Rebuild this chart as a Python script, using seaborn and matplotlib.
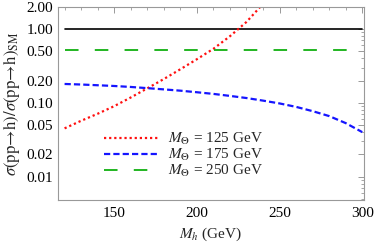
import numpy as np
import pandas as pd
import matplotlib
matplotlib.use("Agg")
import matplotlib.pyplot as plt
import matplotlib.ticker as mticker
import seaborn as sns

# ---- data ----
mh = [120, 130, 140, 150, 160, 170, 180, 190, 200, 210, 220, 230, 240,
      250, 260, 270, 280, 290, 300]
ratio_125 = [0.045, 0.057, 0.071, 0.090, 0.118, 0.157, 0.21, 0.285, 0.39,
             0.54, 0.80, 1.25, 2.2]
ratio_175 = [0.180, 0.177, 0.173, 0.169, 0.164, 0.158, 0.152, 0.146, 0.139,
             0.132, 0.124, 0.116, 0.107, 0.098, 0.088, 0.077, 0.066, 0.053, 0.040]
ratio_250 = [0.52] * len(mh)
ratio_sm = [1.0] * len(mh)
legend_labels = [r"$M_\Theta$ = 125 GeV", r"$M_\Theta$ = 175 GeV", r"$M_\Theta$ = 250 GeV"]
xticks = [150, 200, 250, 300]
yticks = [0.01, 0.02, 0.05, 0.1, 0.2, 0.5, 1.0, 2.0]

sns.set_style("white")
plt.rcParams["font.family"] = ["Liberation Serif", "DejaVu Serif"]
plt.rcParams["mathtext.fontset"] = "stix"

fig = plt.figure(figsize=(3.74, 2.46), dpi=100)
ax = fig.add_axes([0.155, 0.187, 0.818, 0.785])

sns.lineplot(x=mh, y=ratio_sm, ax=ax, color="black", linewidth=1.2)
sns.lineplot(x=mh[:len(ratio_125)], y=ratio_125, ax=ax, color="#ff1010",
             linewidth=1.6, linestyle=(0, (1.0, 1.3)), label=legend_labels[0])
sns.lineplot(x=mh, y=ratio_175, ax=ax, color="#1515ff",
             linewidth=1.6, linestyle=(0, (2.8, 1.4)), label=legend_labels[1])
sns.lineplot(x=mh, y=ratio_250, ax=ax, color="#10b010",
             linewidth=1.3, linestyle=(0, (7.5, 9.0)), label=legend_labels[2])

ax.set_yscale("log")
ax.set_xlim(116, 301)
ax.set_ylim(0.0048, 2.0)
ax.set_xticks(xticks)
ax.xaxis.set_minor_locator(mticker.MultipleLocator(10))
ax.set_yticks(yticks)
ax.yaxis.set_major_formatter(mticker.FuncFormatter(lambda v, p: f"{v:.2f}"))
ax.yaxis.set_minor_locator(mticker.LogLocator(base=10, subs=np.arange(1, 10), numticks=20))
ax.yaxis.set_minor_formatter(mticker.NullFormatter())

for s in ax.spines.values():
    s.set_visible(True)
    s.set_color("#999999")
    s.set_linewidth(0.8)
ax.tick_params(which="both", direction="in", top=True, right=True,
               color="#999999", labelsize=11, labelcolor="black")
ax.tick_params(which="major", length=4, width=0.7)
ax.tick_params(which="minor", length=2, width=0.6)
ax.tick_params(axis="x", which="major", pad=5)

ax.set_xlabel(r"$M_h$ (GeV)", fontsize=11, labelpad=4)
ax.set_ylabel(r"$\sigma(\mathrm{pp}\!\rightarrow\!\mathrm{h})/\sigma(\mathrm{pp}\!\rightarrow\!\mathrm{h})_{\mathrm{SM}}$",
              fontsize=12, labelpad=3)

leg = ax.legend(loc="lower left", bbox_to_anchor=(0.13, 0.075), frameon=False,
                fontsize=11, handlelength=3.6, handletextpad=0.6,
                labelspacing=0.0, borderaxespad=0)

fig.savefig("out.png", dpi=100)
